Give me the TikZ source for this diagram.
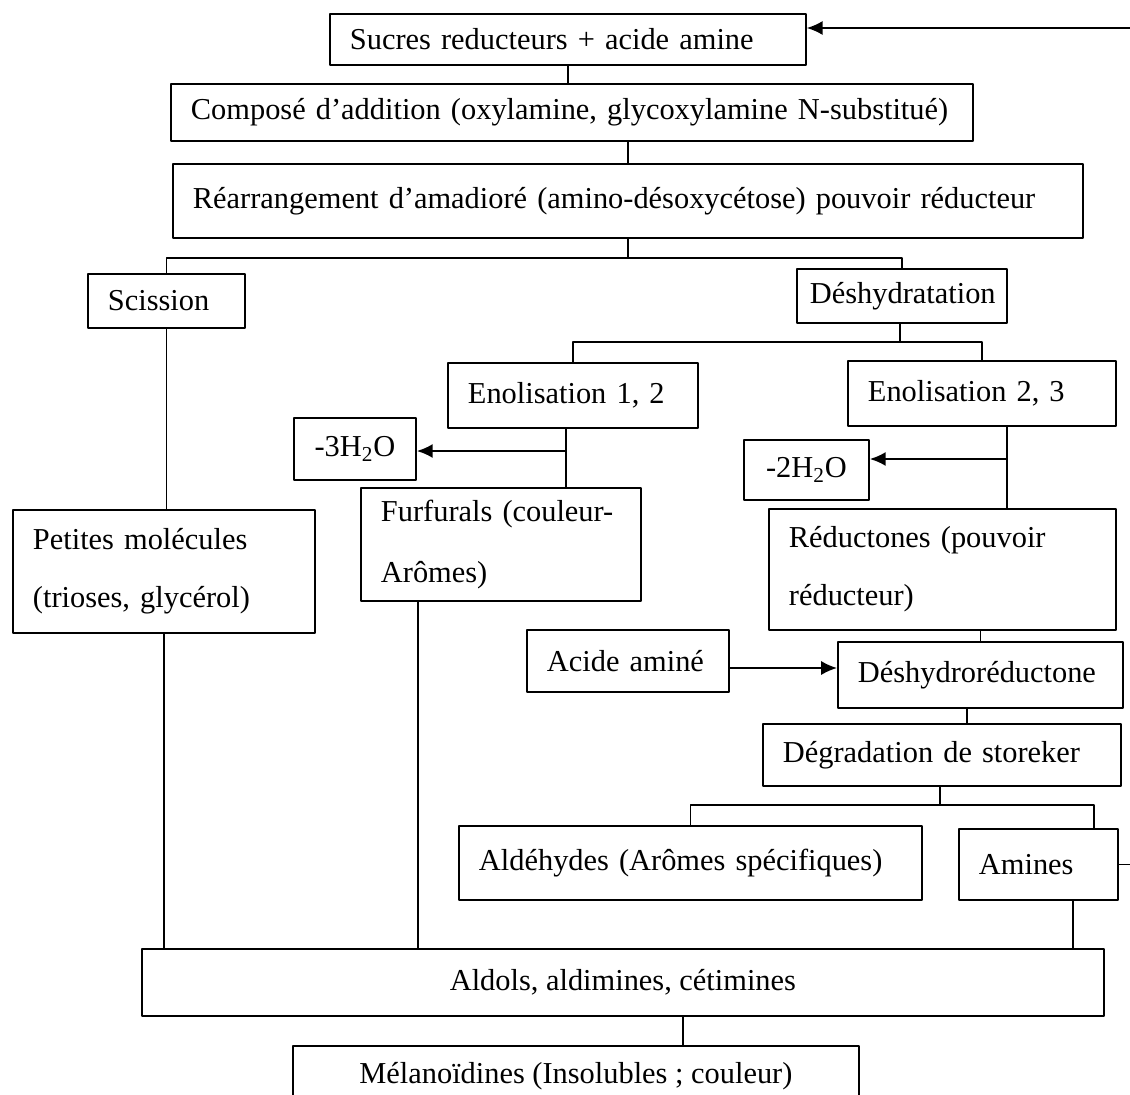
\documentclass[tikz,border=0pt]{standalone}
\usepackage{fontspec}
\setmainfont{Liberation Serif}
\usetikzlibrary{arrows.meta}
\tikzset{
  boite/.style={draw, line width=1.1pt, inner xsep=0.4cm, inner ysep=0pt, align=left, anchor=north west, font=\fontsize{17.3}{20.8}\selectfont},
  boitec/.style={boite, inner xsep=0pt, align=center},
  lien/.style={line width=1pt},
}
\begin{document}
\begin{tikzpicture}[x=0.02cm, y=-0.02cm, line join=round, >={Latex[length=9pt,width=8pt]}]
\useasboundingbox (0,0) rectangle (1130,1095);
\clip (0,0) rectangle (1130,1095);
% boites
\node[boite, text width=8.72cm, minimum height=1.02cm] (sucres) at (329,13) {Sucres reducteurs + acide amine};
\node[boite, text width=15.24cm, minimum height=1.14cm] (compose) at (170,83) {Composé d’addition (oxylamine, glycoxylamine N-substitué)};
\node[boite, text width=17.4cm, minimum height=1.48cm] (rearr) at (172,163) {Réarrangement d’amadioré (amino-désoxycétose) pouvoir réducteur};
\node[boite, text width=2.34cm, minimum height=1.08cm] (scission) at (87,273) {Scission};
\node[boite, inner xsep=0.26cm, text width=3.68cm, minimum height=1.08cm] (deshyd) at (796,268) {Déshydratation};
\node[boite, text width=4.2cm, minimum height=1.3cm] (enol12) at (447,362) {Enolisation 1, 2};
\node[boite, text width=4.56cm, minimum height=1.3cm] (enol23) at (847,360) {Enolisation 2, 3};
\node[boitec, minimum width=2.44cm, minimum height=1.24cm] (moins3) at (293,417) {-3H\textsubscript{2}O};
\node[boite, text width=4.8cm, minimum height=2.26cm] (furfurals) at (360,487) {Furfurals (couleur-\\[14pt]Arômes)};
\node[boitec, minimum width=2.5cm, minimum height=1.2cm] (moins2) at (743,439) {-2H\textsubscript{2}O};
\node[boite, text width=6.14cm, minimum height=2.42cm] (reductones) at (768,508) {Réductones (pouvoir\\[12pt]réducteur)};
\node[boite, text width=5.24cm, minimum height=2.46cm] (petites) at (12,509) {Petites molécules\\[12pt](trioses, glycérol)};
\node[boite, text width=3.24cm, minimum height=1.24cm] (acide) at (526,629) {Acide aminé};
\node[boite, text width=4.9cm, minimum height=1.32cm] (deshydro) at (837,641) {Déshydroréductone};
\node[boite, text width=6.36cm, minimum height=1.24cm] (degrad) at (762,723) {Dégradation de storeker};
\node[boite, text width=8.46cm, minimum height=1.48cm] (aldehydes) at (458,825) {Aldéhydes (Arômes spécifiques)};
\node[boite, text width=2.38cm, minimum height=1.42cm] (amines) at (958,828) {Amines};
\node[boitec, minimum width=19.24cm, minimum height=1.34cm] (aldols) at (141,948) {Aldols, aldimines, cétimines};
\node[boitec, minimum width=11.32cm, minimum height=1.2cm] (melano) at (292,1045) {Mélanoïdines (Insolubles ; couleur)};
% points de jonction
\coordinate (split1) at (628,258);
\coordinate (split2) at (900,342);
\coordinate (split3) at (940,805);
\coordinate (j1) at (566,451);
\coordinate (j2) at (1007,459);
\coordinate (ay) at (0,668);
\coordinate (fx) at (418,0);
\coordinate (dx) at (967,0);
\coordinate (bx) at (1094,0);
\coordinate (ax) at (1073,0);
\coordinate (mx) at (683,0);
\coordinate (back) at (1160,28);
% liens
\draw[lien] (sucres.south) -- (sucres.south |- compose.north);
\draw[lien] (rearr.north |- compose.south) -- (rearr.north);
\draw[lien] (rearr.south -| split1) -- (split1);
\draw[lien] (scission.north) |- (split1) -| (deshyd.north);
\draw[lien] (deshyd.south -| split2) -- (split2);
\draw[lien] (enol12.north) |- (split2) -| (enol23.north);
\draw[lien] (enol12.south -| j1) -- (furfurals.north -| j1);
\draw[lien,->] (j1) -- (j1 -| moins3.east);
\draw[lien] (enol23.south -| j2) -- (reductones.north -| j2);
\draw[lien,->] (j2) -- (j2 -| moins2.east);
\draw[lien] (scission.south) -- (scission.south |- petites.north);
\draw[lien] (petites.south) -- (petites.south |- aldols.north);
\draw[lien] (furfurals.south -| fx) -- (aldols.north -| fx);
\draw[lien,->] (acide.east |- ay) -- (deshydro.west |- ay);
\draw[lien] (deshydro.north |- reductones.south) -- (deshydro.north);
\draw[lien] (deshydro.south -| dx) -- (degrad.north -| dx);
\draw[lien] (degrad.south -| split3) -- (split3);
\draw[lien] (aldehydes.north) |- (split3) -| (amines.north -| bx);
\draw[lien] (amines.south -| ax) -- (aldols.north -| ax);
\draw[lien] (aldols.south -| mx) -- (melano.north -| mx);
\draw[lien,->] (amines.east) -| (back) -- (sucres.east |- back);
\end{tikzpicture}
\end{document}
